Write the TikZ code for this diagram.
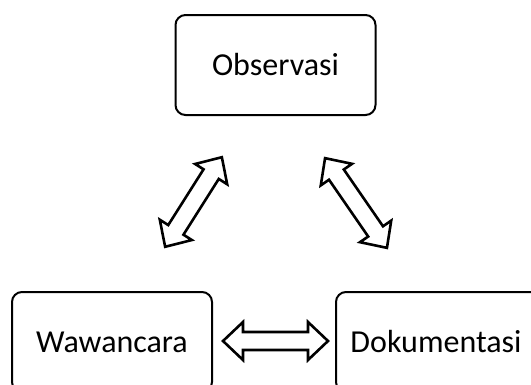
\documentclass[tikz,border=0pt]{standalone}
\usepackage{fontspec}
\setmainfont{Carlito}
\usetikzlibrary{calc}
\tikzset{
  box/.style={draw=black, line width=2pt, rounded corners=10pt, minimum width=200pt, minimum height=100pt, font=\fontsize{32}{38}\selectfont, inner sep=0pt},
  blockarrow/.style={draw=black, line width=2.6pt, fill=white, line join=miter},
}
\newcommand{\dblarrow}[4]{% mid, angle, length, name prefix
  \begin{scope}[shift={#1}, rotate=#2]
    \coordinate (#4a) at (-#3/2,0);
    \coordinate (#4b) at (#3/2,0);
    \draw[blockarrow] (#4a) -- ++(20,19) -- ++(0,-10) -- ($(#4b)+(-20,9)$) -- ++(0,10) -- (#4b)
      -- ++(-20,-19) -- ++(0,10) -- ($(#4a)+(20,-9)$) -- ++(0,-10) -- cycle;
  \end{scope}}
\begin{document}
\begin{tikzpicture}[x=1pt, y=-1pt]
  \useasboundingbox (0,0) rectangle (531,384);
  \clip (0,0) rectangle (531,384);
  \node[box] (obs) at (275.5,65) {Observasi};
  \node[box] (waw) at (112,342) {Wawancara};
  \node[box, minimum width=240pt, anchor=west] (dok) at (335,342) {\hspace*{-40pt}Dokumentasi};
  \dblarrow{(193.5,202)}{57.65}{106}{L}
  \dblarrow{(356,203)}{-55.4}{109}{R}
  \dblarrow{(275.5,341)}{0}{105}{H}
\end{tikzpicture}
\end{document}
